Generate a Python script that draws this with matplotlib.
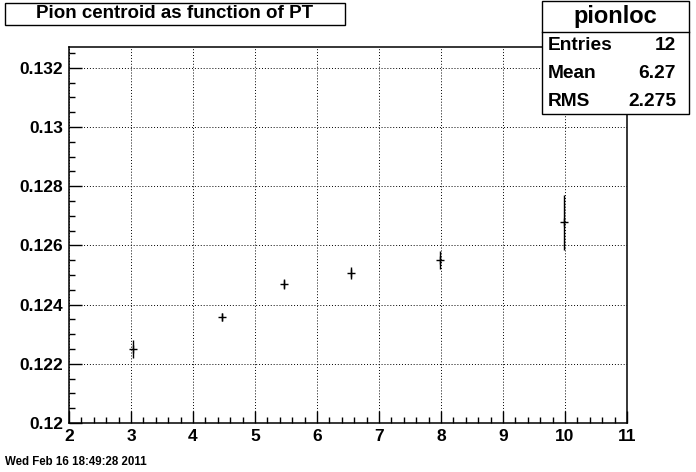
#!/usr/bin/env python3
"""
Pion centroid vs PT, ROOT-style canvas redrawn with matplotlib
"""

import matplotlib
matplotlib.use('Agg')
import matplotlib.pyplot as plt
from matplotlib.patches import Rectangle
from matplotlib.ticker import MultipleLocator

plt.rcParams['font.family'] = ['Liberation Sans', 'DejaVu Sans']
plt.rcParams['font.weight'] = 'bold'

# Data
pt = [3.03, 4.47, 5.46, 6.55, 7.98, 9.98]
centroid = [0.12249, 0.12358, 0.12469, 0.12508, 0.12551, 0.12678]
centroid_err = [0.00030, 0.00015, 0.00017, 0.00020, 0.00030, 0.00092]

title = 'Pion centroid as function of PT'
stats_name = 'pionloc'
stats_rows = [('Entries', '12'), ('Mean', '6.27'), ('RMS', '2.275')]
date_str = 'Wed Feb 16 18:49:28 2011'

W, H = 696, 472
fig = plt.figure(figsize=(W / 100, H / 100), dpi=100)
ax = fig.add_axes([69 / W, 1 - 423 / H, (627 - 69) / W, (423 - 47) / H])

ax.errorbar(pt, centroid, yerr=centroid_err, fmt='+', color='black',
            markersize=6, elinewidth=1.0, capsize=0, markeredgewidth=1.0)

ax.set_xlim(2, 11)
ax.set_ylim(0.12, 0.1327)
ax.xaxis.set_major_locator(MultipleLocator(1))
ax.xaxis.set_minor_locator(MultipleLocator(0.2))
ax.yaxis.set_major_locator(MultipleLocator(0.002))
ax.yaxis.set_minor_locator(MultipleLocator(0.0005))
ax.yaxis.set_major_formatter(plt.FuncFormatter(lambda v, p: f'{v:g}'))

ax.tick_params(which='both', direction='in', top=False, right=False,
               labelsize=12.5, width=1.0)
ax.tick_params(which='major', length=9, pad=4)
ax.tick_params(which='minor', length=4.5)
for lab in ax.get_xticklabels() + ax.get_yticklabels():
    lab.set_fontweight('bold')
for s in ax.spines.values():
    s.set_linewidth(1.1)

ax.grid(True, which='major', color='black', linestyle=(0, (1, 2)), linewidth=0.7)

# title box
fig.patches.append(Rectangle((5 / W, 1 - 25 / H), 340 / W, 22 / H,
                             transform=fig.transFigure, facecolor='white',
                             edgecolor='black', linewidth=1.0))
fig.text(175 / W, 1 - 14 / H, title, ha='center', va='center',
         fontsize=13.5, fontweight='bold')

# stats box
x0, x1, y0, y1 = 542, 689, 1, 114
fig.patches.append(Rectangle((x0 / W, 1 - y1 / H), (x1 - x0) / W, (y1 - y0) / H,
                             transform=fig.transFigure, facecolor='white',
                             edgecolor='black', linewidth=1.0, zorder=5))
fig.lines.append(plt.Line2D([x0 / W, x1 / W], [1 - 32 / H, 1 - 32 / H],
                            transform=fig.transFigure, color='black',
                            linewidth=1.0, zorder=6))
fig.text((x0 + x1) / 2 / W, 1 - 16 / H, stats_name, ha='center', va='center',
         fontsize=17, fontweight='bold', zorder=7)
for i, (name, val) in enumerate(stats_rows):
    yy = 1 - (45 + 28 * i) / H
    fig.text(548 / W, yy, name, ha='left', va='center', fontsize=13.8,
             fontweight='bold', zorder=7)
    fig.text(676 / W, yy, val, ha='right', va='center', fontsize=13.8,
             fontweight='bold', zorder=7)

fig.text(5 / W, 1 - 462 / H, date_str, ha='left', va='center',
         fontsize=8.3, fontweight='bold')

fig.savefig('out.png', dpi=100)
